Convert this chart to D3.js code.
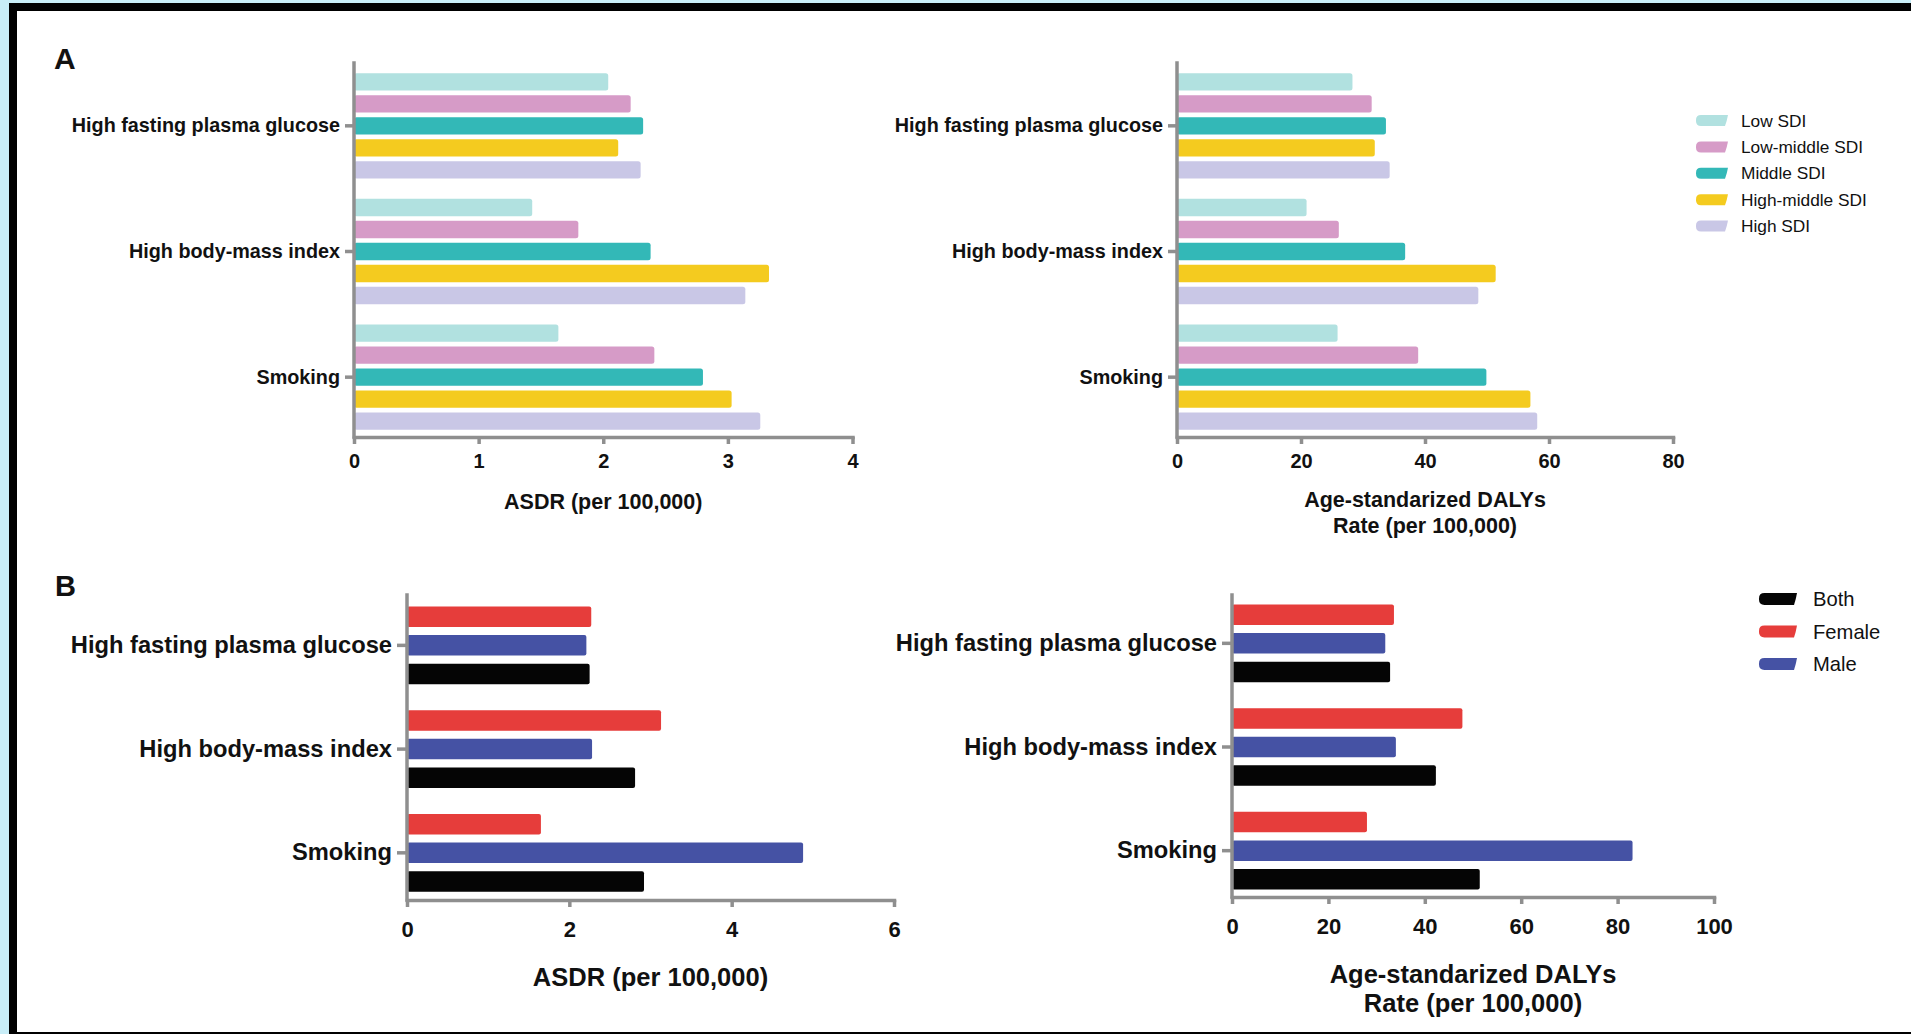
<!DOCTYPE html>
<html>
<head>
<meta charset="utf-8">
<script src="https://cdn.jsdelivr.net/npm/d3@7/dist/d3.min.js"></script>
<style>
  html, body { margin: 0; padding: 0; background: #c8edf7; }
  svg { display: block; }
  text { font-family: "Liberation Sans", Arial, Helvetica, sans-serif; fill: #111; }
</style>
</head>
<body>
<svg id="chart" width="1911" height="1034"></svg>
<script>
// ---------------- DATA ----------------
const riskFactors = ["High fasting plasma glucose", "High body-mass index", "Smoking"];

// Panel A – by SDI level (order follows riskFactors)
const sdiLevels = ["Low SDI", "Low-middle SDI", "Middle SDI", "High-middle SDI", "High SDI"];
const sdiColors = ["#b1e1e0", "#d69bc7", "#33b8b7", "#f4cb1f", "#c9c7e6"];

const asdrLowSDI        = [2.04, 1.43, 1.64];
const asdrLowMiddleSDI  = [2.22, 1.80, 2.41];
const asdrMiddleSDI     = [2.32, 2.38, 2.80];
const asdrHighMiddleSDI = [2.12, 3.33, 3.03];
const asdrHighSDI       = [2.30, 3.14, 3.26];

const dalyLowSDI        = [28.3, 20.9, 25.9];
const dalyLowMiddleSDI  = [31.4, 26.1, 38.9];
const dalyMiddleSDI     = [33.7, 36.8, 49.9];
const dalyHighMiddleSDI = [31.9, 51.4, 57.0];
const dalyHighSDI       = [34.3, 48.6, 58.1];

// Panel B – by sex (bars drawn Female, Male, Both from top)
const sexBarOrder = ["Female", "Male", "Both"];
const sexLegendOrder = ["Both", "Female", "Male"];
const sexColors = { Both: "#050505", Female: "#e63d3b", Male: "#4552a4" };

const asdrFemale = [2.27, 3.13, 1.65];
const asdrMale   = [2.21, 2.28, 4.88];
const asdrBoth   = [2.25, 2.81, 2.92];

const dalyFemale = [33.6, 47.8, 28.0];
const dalyMale   = [31.8, 34.0, 83.1];
const dalyBoth   = [32.8, 42.3, 51.4];

// Axis ticks
const ticksAsdrA = [0, 1, 2, 3, 4];
const ticksDalyA = [0, 20, 40, 60, 80];
const ticksAsdrB = [0, 2, 4, 6];
const ticksDalyB = [0, 20, 40, 60, 80, 100];

// ---------------- DRAWING ----------------
const svg = d3.select("#chart");

// frame
svg.append("rect").attr("x", 9).attr("y", 3).attr("width", 1920).attr("height", 1040).attr("fill", "#000");
svg.append("rect").attr("x", 17).attr("y", 11).attr("width", 1920).attr("height", 1021).attr("fill", "#fff");

const AXIS_COLOR = "#8f8f8f";

function drawPanel(cfg) {
  const g = svg.append("g");
  const x = d3.scaleLinear().domain([cfg.ticks[0], cfg.ticks[cfg.ticks.length - 1]]).range([cfg.x0, cfg.x1]);
  const y = d3.scaleBand().domain(riskFactors).range(cfg.yRange).paddingInner(0).paddingOuter(0);
  const inner = d3.scaleBand().domain(cfg.series.map(s => s.name))
    .range([0, y.bandwidth()]).paddingInner(cfg.pi).paddingOuter(cfg.po);

  // bars
  cfg.series.forEach(s => {
    g.append("g").selectAll("rect")
      .data(riskFactors.map((rf, i) => ({ rf, v: s.values[i] })))
      .join("rect")
      .attr("x", x(0))
      .attr("y", d => y(d.rf) + inner(s.name))
      .attr("width", d => x(d.v) - x(0))
      .attr("height", inner.bandwidth())
      .attr("rx", cfg.rx).attr("ry", cfg.rx)
      .attr("fill", s.color);
  });

  // x axis
  const xa = g.append("g")
    .attr("transform", `translate(0,${cfg.axisY})`)
    .call(d3.axisBottom(x).tickValues(cfg.ticks).tickSize(7).tickSizeOuter(0)
      .tickPadding(cfg.xTickPad).tickFormat(d3.format("d")));
  xa.select(".domain").attr("stroke", AXIS_COLOR).attr("stroke-width", 3.5).attr("stroke-linecap", "square");
  xa.selectAll(".tick line").attr("stroke", AXIS_COLOR).attr("stroke-width", 3.5);
  xa.selectAll(".tick text").attr("font-size", cfg.tickFont).attr("font-weight", "bold")
    .attr("fill", "#111").attr("font-family", null);

  // y axis
  const ya = g.append("g")
    .attr("transform", `translate(${cfg.x0},0)`)
    .call(d3.axisLeft(y).tickSize(cfg.yTickSize).tickSizeOuter(0).tickPadding(cfg.yTickPad));
  ya.select(".domain").remove();
  ya.selectAll(".tick line").attr("stroke", AXIS_COLOR).attr("stroke-width", 3.5);
  ya.selectAll(".tick text").attr("font-size", cfg.labelFont).attr("font-weight", "bold")
    .attr("fill", "#111").attr("font-family", null);
  g.append("line")
    .attr("x1", cfg.x0).attr("x2", cfg.x0)
    .attr("y1", cfg.axisTop).attr("y2", cfg.axisY)
    .attr("stroke", AXIS_COLOR).attr("stroke-width", 3.5).attr("stroke-linecap", "square");

  // title
  const cx = (cfg.x0 + cfg.x1) / 2;
  cfg.title.forEach((t, i) => {
    g.append("text")
      .attr("x", cx).attr("y", cfg.titleY[i]).attr("dy", "0.35em")
      .attr("text-anchor", "middle")
      .attr("font-size", cfg.titleFont).attr("font-weight", "bold")
      .text(t);
  });
}

const seriesAsdrA = sdiLevels.map((n, i) => ({ name: n, color: sdiColors[i],
  values: [asdrLowSDI, asdrLowMiddleSDI, asdrMiddleSDI, asdrHighMiddleSDI, asdrHighSDI][i] }));
const seriesDalyA = sdiLevels.map((n, i) => ({ name: n, color: sdiColors[i],
  values: [dalyLowSDI, dalyLowMiddleSDI, dalyMiddleSDI, dalyHighMiddleSDI, dalyHighSDI][i] }));
const asdrBySex = { Female: asdrFemale, Male: asdrMale, Both: asdrBoth };
const dalyBySex = { Female: dalyFemale, Male: dalyMale, Both: dalyBoth };
const seriesAsdrB = sexBarOrder.map(n => ({ name: n, color: sexColors[n], values: asdrBySex[n] }));
const seriesDalyB = sexBarOrder.map(n => ({ name: n, color: sexColors[n], values: dalyBySex[n] }));

const layoutA = { yRange: [63, 440], axisTop: 63, axisY: 437, pi: 0.214, po: 0.463, rx: 2.5,
  labelFont: 19.8, tickFont: 20, titleFont: 21.5, yTickSize: 9, yTickPad: 5, xTickPad: 10 };
const layoutB = { pi: 0.283, po: 0.455, rx: 2, axisTop: 595,
  labelFont: 23.7, tickFont: 22, titleFont: 25.5, yTickSize: 10, yTickPad: 5, xTickPad: 14 };

drawPanel(Object.assign({}, layoutA, { x0: 354, x1: 852.5, ticks: ticksAsdrA, series: seriesAsdrA,
  title: ["ASDR (per 100,000)"], titleY: [501] }));
drawPanel(Object.assign({}, layoutA, { x0: 1177, x1: 1673, ticks: ticksDalyA, series: seriesDalyA,
  title: ["Age-standarized DALYs", "Rate (per 100,000)"], titleY: [499, 525] }));
drawPanel(Object.assign({}, layoutB, { x0: 407, x1: 894, ticks: ticksAsdrB, series: seriesAsdrB,
  yRange: [593.5, 904.7], axisY: 900, title: ["ASDR (per 100,000)"], titleY: [977] }));
drawPanel(Object.assign({}, layoutB, { x0: 1232, x1: 1714, ticks: ticksDalyB, series: seriesDalyB,
  yRange: [591.5, 902.5], axisY: 897, title: ["Age-standarized DALYs", "Rate (per 100,000)"], titleY: [974, 1003] }));

// panel letters
svg.append("text").attr("x", 54).attr("y", 69).attr("font-size", 30).attr("font-weight", "bold").text("A");
svg.append("text").attr("x", 55).attr("y", 596).attr("font-size", 29).attr("font-weight", "bold").text("B");

// legends
function swatchPath(x, y, w, h) {
  const r = h / 2.2;
  return `M${x + r},${y} L${x + w},${y} Q${x + w - 1},${y + h / 2} ${x + w - 3},${y + h} L${x + r},${y + h} Q${x},${y + h} ${x},${y + h - r} L${x},${y + r} Q${x},${y} ${x + r},${y} Z`;
}
function drawLegend(items, colors, cfg) {
  const ly = d3.scaleBand().domain(items).range(cfg.yRange);
  const lg = svg.append("g");
  items.forEach((name, i) => {
    const cy = ly(name) + ly.bandwidth() / 2;
    lg.append("path").attr("d", swatchPath(cfg.sx, cy - cfg.sh / 2, cfg.sw, cfg.sh)).attr("fill", colors[i]);
    lg.append("text").attr("x", cfg.tx).attr("y", cy).attr("dy", "0.35em")
      .attr("font-size", cfg.font).attr("fill", "#2a2a2a").text(name);
  });
}
drawLegend(sdiLevels, sdiColors, { yRange: [107.3, 239.3], sx: 1696, sw: 32, sh: 11, tx: 1741, font: 17.3 });
drawLegend(sexLegendOrder, sexLegendOrder.map(n => sexColors[n]),
  { yRange: [582.8, 680.3], sx: 1759, sw: 38, sh: 12, tx: 1813, font: 20.2 });
</script>
</body>
</html>
